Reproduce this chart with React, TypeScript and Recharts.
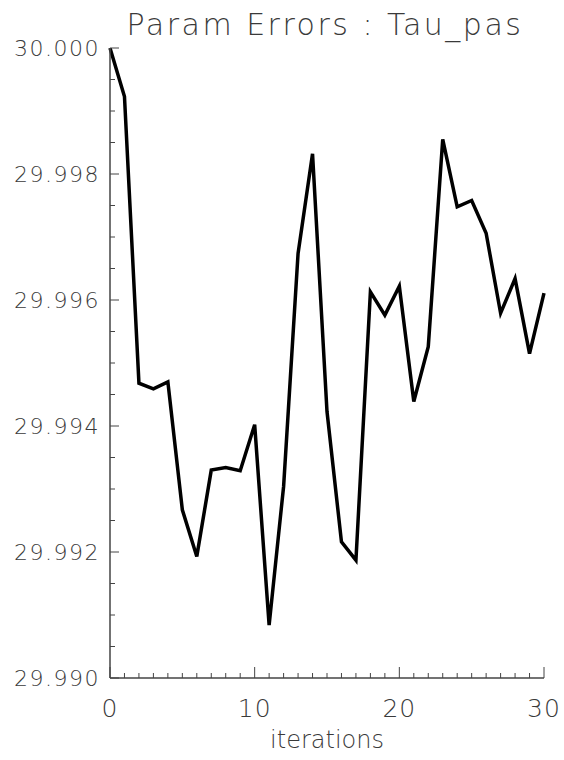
import { LineChart, Line, XAxis, YAxis } from "recharts";

const ITERATIONS = [
  0, 1, 2, 3, 4, 5, 6, 7, 8, 9, 10, 11, 12, 13, 14, 15, 16, 17, 18, 19, 20,
  21, 22, 23, 24, 25, 26, 27, 28, 29, 30,
];

const TAU_PAS = [
  30.0, 29.99923, 29.99468, 29.99459, 29.9947, 29.99267, 29.99193, 29.9933,
  29.99334, 29.99329, 29.99402, 29.99084, 29.99304, 29.99674, 29.99832,
  29.99423, 29.99216, 29.99187, 29.99613, 29.99576, 29.99622, 29.99439,
  29.99526, 29.99855, 29.99748, 29.99758, 29.99706, 29.99579, 29.99634,
  29.99515, 29.99611,
];

const X_TICKS = ITERATIONS;
const X_LABELS = [0, 10, 20, 30];

const Y_TICKS = [
  29.99, 29.9905, 29.991, 29.9915, 29.992, 29.9925, 29.993, 29.9935, 29.994,
  29.9945, 29.995, 29.9955, 29.996, 29.9965, 29.997, 29.9975, 29.998,
  29.9985, 29.999, 29.9995, 30.0,
];
const Y_LABELS = [29.99, 29.992, 29.994, 29.996, 29.998, 30.0];

const data = ITERATIONS.map((it, i) => ({ it, tau: TAU_PAS[i] }));

const FONT = '"DejaVu Sans", sans-serif';
const INK = "#3a3a3a";
const AXIS = "#444";

const isMajorY = (v: number) => Y_LABELS.some((m) => Math.abs(m - v) < 1e-7);

// IDL style: ticks point into the plot box, labels only on major ticks
function BottomTick({ x, y, payload }: any) {
  const major = X_LABELS.includes(payload.value);
  return (
    <g>
      <line x1={x} x2={x} y1={y} y2={y - (major ? 11 : 5)} stroke={AXIS} />
      {major && (
        <text
          x={x}
          y={y + 39}
          textAnchor="middle"
          fontFamily={FONT}
          fontWeight={200}
          fontSize={25}
          letterSpacing={1}
          fill={INK}
        >
          {payload.value}
        </text>
      )}
    </g>
  );
}

function TopTick({ x, y, payload }: any) {
  const major = X_LABELS.includes(payload.value);
  return <line x1={x} x2={x} y1={y} y2={y + (major ? 12 : 5)} stroke={AXIS} />;
}

function LeftTick({ x, y, payload }: any) {
  const major = isMajorY(payload.value);
  return (
    <g>
      <line x1={x} x2={x + (major ? 9 : 5)} y1={y} y2={y} stroke={AXIS} />
      {major && (
        <text
          x={x - 10}
          y={y + 8}
          textAnchor="end"
          fontFamily={FONT}
          fontWeight={200}
          fontSize={22}
          letterSpacing={1.5}
          fill={INK}
        >
          {payload.value.toFixed(3)}
        </text>
      )}
    </g>
  );
}

function RightTick({ x, y, payload }: any) {
  const major = isMajorY(payload.value);
  return <line x1={x} x2={x - (major ? 9 : 5)} y1={y} y2={y} stroke={AXIS} />;
}

export default function App() {
  return (
    <div
      style={{
        position: "absolute",
        left: 0,
        top: 0,
        width: 564,
        height: 760,
        background: "#fff",
      }}
    >
      <svg
        width={564}
        height={48}
        style={{ position: "absolute", left: 0, top: 0 }}
      >
        <text
          x={325}
          y={35}
          textAnchor="middle"
          fontFamily={FONT}
          fontWeight={200}
          fontSize={30}
          letterSpacing={2.5}
          fill={INK}
        >
          Param Errors : Tau_pas
        </text>
      </svg>
      <LineChart
        width={564}
        height={760}
        data={data}
        margin={{ top: 48, right: 20, bottom: 0, left: 10 }}
      >
        <XAxis
          xAxisId="bottom"
          dataKey="it"
          type="number"
          domain={[0, 30]}
          ticks={X_TICKS}
          interval={0}
          height={82}
          tickSize={0}
          tickMargin={0}
          tickLine={false}
          tick={<BottomTick />}
          axisLine={{ stroke: AXIS, strokeWidth: 1.5 }}
          label={{
            content: ({ viewBox }: any) => (
              <text
                x={viewBox.x + viewBox.width / 2}
                y={viewBox.y + 70}
                textAnchor="middle"
                fontFamily={FONT}
                fontWeight={200}
                fontSize={24}
                fill={INK}
              >
                iterations
              </text>
            ),
          }}
        />
        <XAxis
          xAxisId="top"
          orientation="top"
          dataKey="it"
          type="number"
          domain={[0, 30]}
          ticks={X_TICKS}
          interval={0}
          height={0}
          tickSize={0}
          tickMargin={0}
          tickLine={false}
          tick={<TopTick />}
          axisLine={{ stroke: AXIS, strokeWidth: 1.5 }}
        />
        <YAxis
          yAxisId="left"
          type="number"
          domain={[29.99, 30.0]}
          allowDataOverflow
          ticks={Y_TICKS}
          interval={0}
          width={100}
          tickSize={0}
          tickMargin={0}
          tickLine={false}
          tick={<LeftTick />}
          axisLine={{ stroke: AXIS, strokeWidth: 1.5 }}
        />
        <YAxis
          yAxisId="right"
          orientation="right"
          type="number"
          domain={[29.99, 30.0]}
          allowDataOverflow
          ticks={Y_TICKS}
          interval={0}
          width={0}
          tickSize={0}
          tickMargin={0}
          tickLine={false}
          tick={<RightTick />}
          axisLine={{ stroke: AXIS, strokeWidth: 1.5 }}
        />
        <Line
          xAxisId="bottom"
          yAxisId="left"
          type="linear"
          dataKey="tau"
          stroke="#000"
          strokeWidth={3.5}
          strokeLinejoin="miter"
          dot={false}
          isAnimationActive={false}
        />
      </LineChart>
    </div>
  );
}
